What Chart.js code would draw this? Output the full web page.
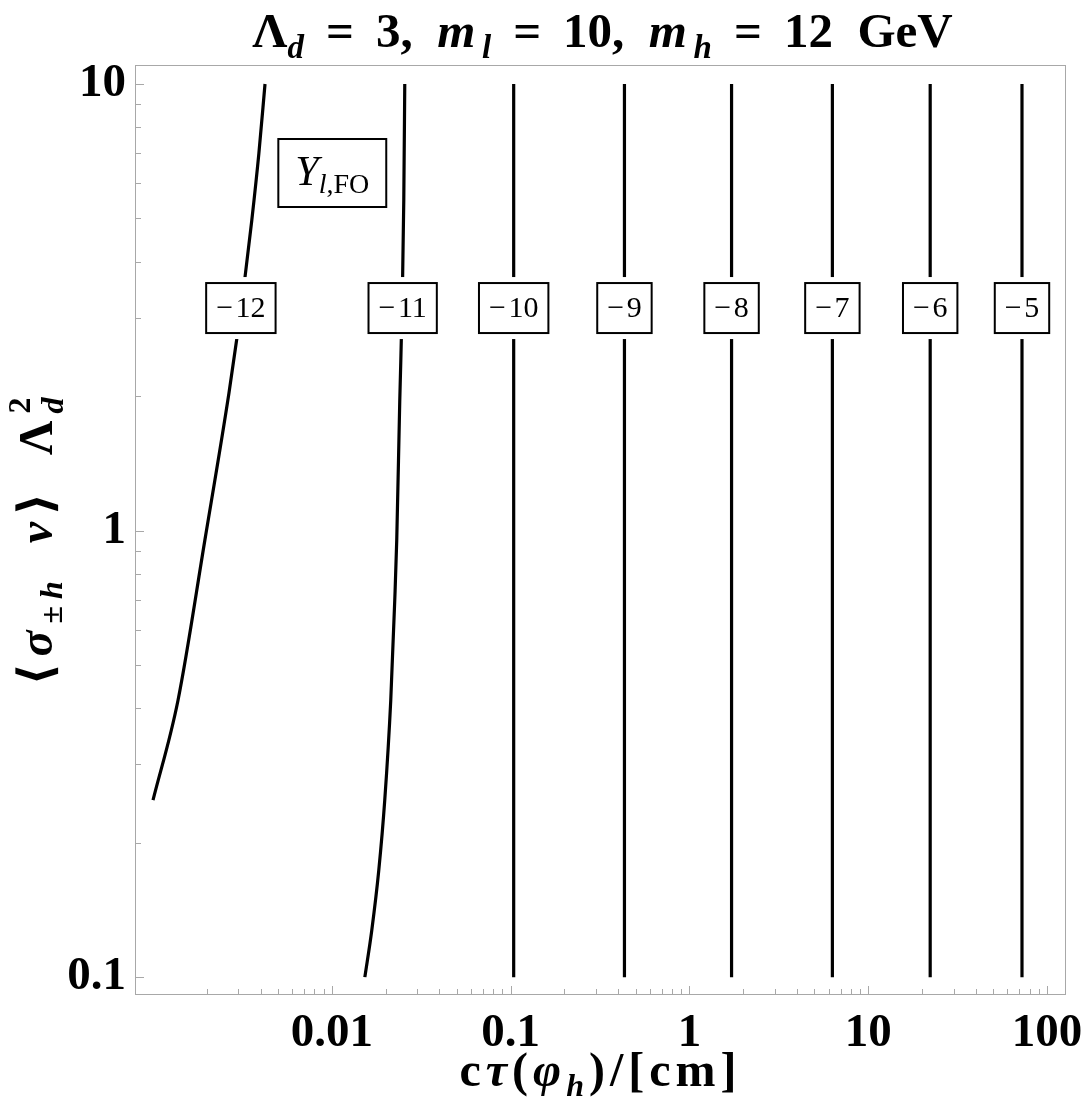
<!DOCTYPE html>
<html>
<head>
<meta charset="utf-8">
<script src="https://cdn.jsdelivr.net/npm/chart.js@4.4.1/dist/chart.umd.min.js"></script>
<style>
  html, body { margin: 0; padding: 0; background: #fff; }
  #wrap { width: 1084px; height: 1110px; }
</style>
</head>
<body>
<div id="wrap"><canvas id="chart" width="1084" height="1110"></canvas></div>
<script>
// contour lines of Y_l,FO: [c*tau in cm, <sigma v> Lambda_d^2]
const contourM12 = [[0.00100, 0.249], [0.00138, 0.417], [0.00195, 0.952], [0.002658, 2.03], [0.00295, 2.71],
                    [0.003266, 3.68], [0.00357, 4.96], [0.00391, 7.0], [0.00423, 10]];
const contourM11 = [[0.0153, 0.1], [0.01673, 0.1274], [0.01831, 0.1736], [0.01977, 0.249], [0.02136, 0.417],
                    [0.02249, 0.699], [0.02307, 0.952], [0.02399, 1.96], [0.02477, 3.28], [0.02526, 5.5], [0.02558, 10]];
const contourM10 = [[0.104, 0.1], [0.104, 10]];
const contourM9 = [[0.433, 0.1], [0.433, 10]];
const contourM8 = [[1.72, 0.1], [1.72, 10]];
const contourM7 = [[6.3, 0.1], [6.3, 10]];
const contourM6 = [[22.2, 0.1], [22.2, 10]];
const contourM5 = [[72.4, 0.1], [72.4, 10]];

// contour labels: text and where they sit
const labelTexts = ['\u2212\u200A12', '\u2212\u200A11', '\u2212\u200A10', '\u2212\u200A9', '\u2212\u200A8',
                    '\u2212\u200A7', '\u2212\u200A6', '\u2212\u200A5'];
const labelX = [0.00310, 0.0249, 0.104, 0.433, 1.72, 6.3, 22.2, 72.4];
const labelY = 3.15;

const xMajorTicks = [0.01, 0.1, 1, 10, 100];
const xTickLabels = ['0.01', '0.1', '1', '10', '100'];
const xMinorTicks = [0.002, 0.003, 0.004, 0.005, 0.006, 0.007, 0.008, 0.009,
                     0.02, 0.03, 0.04, 0.05, 0.06, 0.07, 0.08, 0.09,
                     0.2, 0.3, 0.4, 0.5, 0.6, 0.7, 0.8, 0.9,
                     2, 3, 4, 5, 6, 7, 8, 9,
                     20, 30, 40, 50, 60, 70, 80, 90];
const yMajorTicks = [0.1, 1, 10];
const yTickLabels = ['0.1', '1', '10'];
const yMinorTicks = [0.2, 0.3, 0.4, 0.5, 0.6, 0.7, 0.8, 0.9, 2, 3, 4, 5, 6, 7, 8, 9];

const serif = "'Liberation Serif', 'DejaVu Serif', serif";
const B = s => `bold ${s}px ${serif}`;
const BI = s => `italic bold ${s}px ${serif}`;
const R = s => `${s}px ${serif}`;
const I = s => `italic ${s}px ${serif}`;

// draws text made of pieces with their own font and baseline shift
function richText(ctx, parts, x, y, align, spacing) {
  ctx.letterSpacing = (spacing || 0) + 'px';
  let total = 0;
  const widths = parts.map(p => {
    ctx.font = p[1];
    let w = ctx.measureText(p[0]).width;
    if (p[3]) { ctx.font = p[3][1]; w = Math.max(w, ctx.measureText(p[3][0]).width); }
    total += w;
    return w;
  });
  let cx = align === 'center' ? x - total / 2 : x;
  ctx.textAlign = 'left';
  ctx.textBaseline = 'alphabetic';
  ctx.fillStyle = '#000';
  parts.forEach((p, i) => {
    ctx.font = p[1];
    ctx.fillText(p[0], cx, y + (p[2] || 0));
    if (p[3]) { ctx.font = p[3][1]; ctx.fillText(p[3][0], cx, y + p[3][2]); }
    cx += widths[i];
  });
  ctx.letterSpacing = '0px';
  return total;
}

const framePlugin = {
  id: 'frame',
  beforeDraw(chart) {
    const ctx = chart.ctx;
    ctx.save();
    ctx.fillStyle = '#fff';
    ctx.fillRect(0, 0, chart.width, chart.height);
    ctx.restore();
  },
  beforeDatasetsDraw(chart) {
    const { ctx, chartArea: a, scales } = chart;
    ctx.save();
    ctx.strokeStyle = '#a8a8a8';
    ctx.lineWidth = 1;
    ctx.strokeRect(a.left + 0.5, a.top + 0.5, a.right - a.left - 1, a.bottom - a.top - 1);
    ctx.beginPath();
    const xt = (v, len) => { const px = Math.round(scales.x.getPixelForValue(v)) + 0.5; ctx.moveTo(px, a.bottom); ctx.lineTo(px, a.bottom - len); };
    const yt = (v, len) => { const py = Math.round(scales.y.getPixelForValue(v)) + 0.5; ctx.moveTo(a.left, py); ctx.lineTo(a.left + len, py); };
    xMajorTicks.forEach(v => xt(v, 9));
    xMinorTicks.forEach(v => xt(v, 6));
    yMajorTicks.forEach(v => yt(v, 9));
    yMinorTicks.forEach(v => yt(v, 6));
    ctx.stroke();
    ctx.restore();
  },
  afterDatasetsDraw(chart) {
    const { ctx, scales } = chart;
    ctx.save();
    const py = scales.y.getPixelForValue(labelY);
    labelTexts.forEach((t, i) => {
      ctx.font = R(30);
      const px = scales.x.getPixelForValue(labelX[i]);
      const w = ctx.measureText(t).width + 20;
      const h = 50;
      ctx.fillStyle = '#fff';
      ctx.fillRect(px - w / 2 - 1, py - h / 2 - 6, w + 2, h + 12);
      ctx.strokeStyle = '#000';
      ctx.lineWidth = 2;
      ctx.strokeRect(px - w / 2, py - h / 2, w, h);
      ctx.fillStyle = '#000';
      ctx.textAlign = 'center';
      ctx.textBaseline = 'middle';
      ctx.fillText(t, px, py + 1);
    });
    // Y_l,FO tag
    const tx = scales.x.getPixelForValue(0.01006);
    const ty = scales.y.getPixelForValue(6.32);
    const tagParts = [['Y', I(42)], ['l', I(28), 8], [',FO', R(28), 8]];
    let tw = 0;
    tagParts.forEach(p => { ctx.font = p[1]; tw += ctx.measureText(p[0]).width; });
    const bw = tw + 34, bh = 68;
    ctx.fillStyle = '#fff';
    ctx.fillRect(tx - bw / 2, ty - bh / 2, bw, bh);
    ctx.strokeStyle = '#000';
    ctx.lineWidth = 2;
    ctx.strokeRect(tx - bw / 2, ty - bh / 2, bw, bh);
    richText(ctx, tagParts, tx, ty + 12, 'center');
    ctx.restore();
  },
  afterDraw(chart) {
    const { ctx, chartArea: a } = chart;
    ctx.save();
    const cx = (a.left + a.right) / 2;
    const eq = '\u2009=\u2009';
    richText(ctx, [['\u039B', B(49)], ['d', BI(33), 11], [' ' + eq + ' 3,  ', B(49)], ['m', BI(49)], ['\u2009l', BI(33), 11],
                   [' ' + eq + ' 10,  ', B(49)], ['m', BI(49)], ['\u2009h', BI(33), 11], [' ' + eq + ' 12  GeV', B(49)]],
             cx + 2, 47, 'center');
    richText(ctx, [['c', B(48)], ['\u03C4', BI(48)], ['(', B(48)], ['\u03C6', BI(48)], ['h', BI(32), 10],
                   [')/[cm]', B(48)]], cx, 1086, 'center', 5);
    ctx.translate(52, (a.top + a.bottom) / 2 + 8);
    ctx.rotate(-Math.PI / 2);
    richText(ctx, [['\u27E8', B(48)], ['\u03C3', BI(48)], ['\u00B1', B(32), 10], ['h', BI(32), 10], ['\u2002', B(48)],
                   ['v', BI(48)], ['\u27E9\u2002', B(48)], ['\u039B', B(48)], ['d', BI(32), 11, ['2', B(32), -22]]],
             0, 0, 'center', 7);
    ctx.restore();
  }
};

const toPts = arr => arr.map(p => ({ x: p[0], y: p[1] }));
const contours = [contourM12, contourM11, contourM10, contourM9, contourM8, contourM7, contourM6, contourM5];

new Chart(document.getElementById('chart').getContext('2d'), {
  type: 'scatter',
  data: {
    datasets: contours.map((c, i) => ({
      label: labelTexts[i],
      data: toPts(c),
      showLine: true,
      borderColor: '#000',
      borderWidth: 3.2,
      pointRadius: 0,
      cubicInterpolationMode: c.length > 2 ? 'monotone' : 'default',
      tension: 0,
      fill: false
    }))
  },
  options: {
    responsive: false,
    animation: false,
    events: [],
    layout: { padding: { top: 65, right: 18, left: 0, bottom: 0 } },
    plugins: { legend: { display: false }, tooltip: { enabled: false }, title: { display: false } },
    scales: {
      x: {
        type: 'logarithmic',
        min: 0.000793,
        max: 127.6,
        grid: { display: false, drawTicks: false },
        border: { display: false },
        afterBuildTicks: s => { s.ticks = xMajorTicks.map(v => ({ value: v })); },
        afterFit: s => { s.height = 115; s.paddingLeft = 0; s.paddingRight = 0; },
        ticks: {
          autoSkip: false, maxRotation: 0, padding: 11, color: '#000',
          font: { family: serif, size: 47, weight: 'bold' },
          callback: (v, i) => xTickLabels[i]
        }
      },
      y: {
        type: 'logarithmic',
        min: 0.0912,
        max: 11.03,
        grid: { display: false, drawTicks: false },
        border: { display: false },
        afterBuildTicks: s => { s.ticks = yMajorTicks.map(v => ({ value: v })); },
        afterFit: s => { s.width = 135; s.paddingTop = 0; s.paddingBottom = 0; },
        ticks: {
          autoSkip: false, padding: 9, color: '#000',
          font: { family: serif, size: 47, weight: 'bold' },
          callback: (v, i) => yTickLabels[i]
        }
      }
    }
  },
  plugins: [framePlugin]
});
</script>
</body>
</html>
